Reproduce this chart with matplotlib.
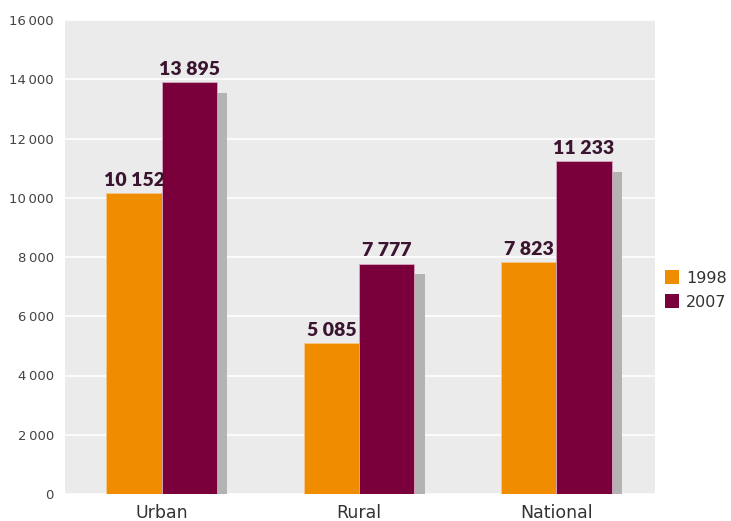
import numpy as np
import matplotlib
matplotlib.use('Agg')
from matplotlib import pyplot as plt
from matplotlib import patheffects as pe
from matplotlib.patches import Patch

categories = ['Urban', 'Rural', 'National']
years = ['1998', '2007']
values_1998 = [10152, 5085, 7823]
values_2007 = [13895, 7777, 11233]
y_ticks = [0, 2000, 4000, 6000, 8000, 10000, 12000, 14000, 16000]

ORANGE = '#f08c00'
MAROON = '#7a003c'
LABEL = '#3b1530'


def fmt(v, sep):
    s = f'{v:,}'.replace(',', sep)
    return s


def main():
    plt.rcParams['font.family'] = ['DejaVu Sans']
    fig = plt.figure(figsize=(7.31, 5.21), dpi=100)
    ax = fig.add_axes([65 / 731, 27 / 521, 590 / 731, 474 / 521])
    ax.set_facecolor('#ebebeb')

    x = np.arange(len(categories))
    w = 0.28
    shadow = [pe.SimplePatchShadow(offset=(7.5, -7.5), shadow_rgbFace='#b3b3b3', alpha=1.0), pe.Normal()]
    b1 = ax.bar(x - w / 2, values_1998, w, color=ORANGE, edgecolor='#f6c98a', linewidth=0.6, zorder=3)
    b2 = ax.bar(x + w / 2, values_2007, w, color=MAROON, edgecolor='#d9a8c0', linewidth=0.6, zorder=3)
    for bar in b2:
        bar.set_path_effects(shadow)

    for bars, vals in ((b1, values_1998), (b2, values_2007)):
        for bar, v in zip(bars, vals):
            ax.annotate(fmt(v, ' '), (bar.get_x() + bar.get_width() / 2, v),
                        xytext=(0, 3), textcoords='offset points', ha='center', va='bottom',
                        fontsize=14, fontweight='heavy', color=LABEL, zorder=5,
                        family=['Lato', 'DejaVu Sans'])

    ax.set_xlim(-0.49, 2.5)
    ax.set_ylim(0, 16000)
    ax.set_yticks(y_ticks)
    ax.set_yticklabels([fmt(t, '\u2009') for t in y_ticks])
    ax.set_xticks(x)
    ax.set_xticklabels(categories)
    ax.grid(axis='y', color='white', linewidth=1.2, zorder=0)
    ax.set_axisbelow(True)
    for s in ax.spines.values():
        s.set_visible(False)
    ax.tick_params(axis='y', length=0, pad=8, labelsize=9.5, labelcolor='#444444')
    ax.tick_params(axis='x', length=0, pad=7, labelsize=12.5, labelcolor='#333333')

    handles = [Patch(facecolor=ORANGE), Patch(facecolor=MAROON)]
    fig.legend(handles, years, loc='center left', bbox_to_anchor=(660 / 731, 1 - 290 / 521),
               frameon=False, fontsize=11.5, handlelength=0.9, handleheight=0.9,
               handletextpad=0.45, labelspacing=0.55, labelcolor='#333333',
               borderaxespad=0, borderpad=0.3)

    plt.savefig('out.png', dpi=100)
    plt.close()


if __name__ == '__main__':
    main()
